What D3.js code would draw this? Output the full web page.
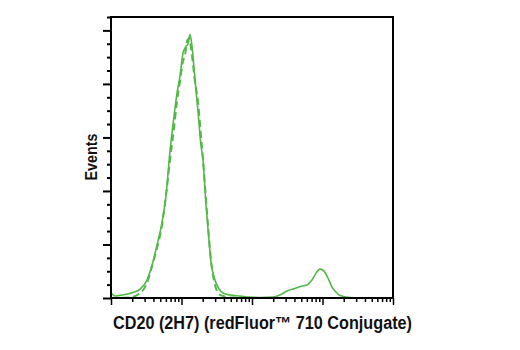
<!DOCTYPE html>
<html><head><meta charset="utf-8">
<script src="https://cdn.jsdelivr.net/npm/d3@7"></script>
<style>body{margin:0;background:#fff}svg{display:block}</style>
</head><body>
<svg id="chart" width="520" height="350"></svg>
<script>
// Solid histogram (intensity, events)
const solidX = [1,1.15,1.58,2.05,2.58,3.24,3.82,4.49,5.29,6.03,6.87,7.83,8.63,9.52,10.5,11.6,12.4,13.2,14.1,15.5,17.1,18.9,20.2,22.3,23.8,26.2,29.9,34.0,38.8,48.8,67.6,93.7,130,199,249,314,407,512,603,709,809,922,1050,1197,1364,1553,1770,2455,4010,10000];
const solidY = [0.37,0.15,0.26,0.41,0.67,1.34,2.46,3.95,5.66,7.67,11.0,13.6,15.3,16.6,18.3,18.8,19.0,19.7,18.8,16.4,14.0,11.4,10.3,6.9,5.1,2.7,1.34,0.67,0.37,0.22,0.15,0.07,0.04,0.07,0.22,0.52,0.71,0.89,0.97,1.34,1.86,2.16,2.01,1.49,0.82,0.45,0.19,0.04,0,0];
// Dashed histogram (isotype control)
const dashX = [1,1.85,2.58,3.24,3.82,4.49,5.29,6.03,6.87,7.83,8.63,9.52,10.5,11.2,12.0,12.8,14.1,15.5,17.1,18.9,20.2,22.3,23.8,26.2,29.9,34.0,38.8,48.8,93.7,10000];
const dashY = [0,0.04,0.37,1.12,2.38,3.72,5.44,7.67,10.3,12.7,14.7,16.2,17.7,18.1,19.2,19.4,18.1,16.2,14.7,12.1,10.3,7.3,5.4,2.8,0.97,0.30,0.15,0.04,0,0];
const xDomain = [1, 10000];
const yDomain = [0, 21];
const yMajor = [0,4,8,12,16,20];
const yMinor = d3.range(0,22,1).filter(v => v % 4 !== 0);
const xMajor = [1,10,100,1000,10000];
const xMinor = [];
for (let d = 1; d < 10000; d *= 10) for (let k = 2; k <= 9; k++) xMinor.push(d*k);
const xTitle = "CD20 (2H7) (redFluor\u2122 710 Conjugate)";
const yTitle = "Events";
const green = "#52b848";

const svg = d3.select("#chart");
const L = 111, R = 393, T = 17, B = 298;
const x = d3.scaleLog().domain(xDomain).range([L, R]);
const y = d3.scaleLinear().domain(yDomain).range([B, T]);

const line = d3.line().x(d => x(d[0])).y(d => y(d[1])).curve(d3.curveMonotoneX);

svg.append("path").datum(d3.zip(dashX, dashY)).attr("d", line)
  .attr("fill","none").attr("stroke",green).attr("stroke-width",2).attr("stroke-dasharray","7,4");
svg.append("path").datum(d3.zip(solidX, solidY)).attr("d", line)
  .attr("fill","none").attr("stroke",green).attr("stroke-width",1.6);

// Frame
svg.append("rect").attr("x",L).attr("y",T).attr("width",R-L).attr("height",B-T)
  .attr("fill","none").attr("stroke","#000").attr("stroke-width",2);

// Y axis ticks
const gy = svg.append("g").attr("transform",`translate(${L},0)`);
gy.call(d3.axisLeft(y).tickValues(yMajor).tickSize(8).tickFormat(""));
gy.append("g").call(d3.axisLeft(y).tickValues(yMinor).tickSize(4).tickFormat(""));
gy.selectAll(".domain").remove();
gy.selectAll("line").attr("stroke","#000").attr("stroke-width",2);

// X axis ticks
const gx = svg.append("g").attr("transform",`translate(0,${B})`);
gx.call(d3.axisBottom(x).tickValues(xMajor).tickSize(7).tickFormat(""));
gx.append("g").call(d3.axisBottom(x).tickValues(xMinor).tickSize(4).tickFormat(""));
gx.selectAll(".domain").remove();
gx.selectAll("line").attr("stroke","#000").attr("stroke-width",1.5);

const font = "'Liberation Sans',Arial,sans-serif";
svg.append("text").attr("x",262.5).attr("y",329).attr("text-anchor","middle")
  .attr("font-family",font).attr("font-weight","bold").attr("font-size",17.5).attr("fill","#111")
  .attr("textLength",299).attr("lengthAdjust","spacingAndGlyphs")
  .text(xTitle);
svg.append("text").attr("transform","translate(96.5,157) rotate(-90)").attr("text-anchor","middle")
  .attr("font-family",font).attr("font-weight","bold").attr("font-size",17).attr("fill","#111")
  .attr("textLength",47).attr("lengthAdjust","spacingAndGlyphs")
  .text(yTitle);
</script>
</body></html>
